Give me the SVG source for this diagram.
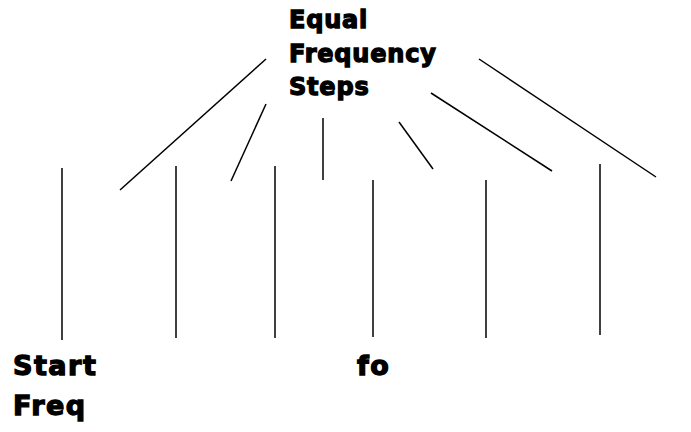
<svg xmlns="http://www.w3.org/2000/svg" width="691" height="432" viewBox="0 0 691 432">
<style>
.t{font-family:"DejaVu Sans",sans-serif;font-weight:bold;fill:#000;stroke:#000;stroke-width:1.3}
.s{font-size:24px;letter-spacing:0.8px}
.b{font-size:27px;letter-spacing:1.5px}
line{stroke:#000;stroke-width:1.5}
</style>
<rect width="691" height="432" fill="#fff"/>
<g id="title"><text class="t s" x="289" y="28">Equal</text><text class="t s" x="289" y="62">Frequency</text><text class="t s" x="289" y="95">Steps</text></g>
<g id="start"><text class="t b" x="13" y="375">Start</text><text class="t b" x="13" y="415">Freq</text></g>
<g id="fo"><text class="t b" x="357" y="375">fo</text></g>
<g id="connectors">
<line x1="266" y1="59" x2="120" y2="190"/>
<line x1="266" y1="104" x2="231" y2="181"/>
<line x1="323" y1="118" x2="323" y2="180"/>
<line x1="399" y1="122" x2="433" y2="169"/>
<line x1="431" y1="93" x2="552" y2="171"/>
<line x1="479" y1="59" x2="656" y2="177"/>
<line x1="62" y1="168" x2="62" y2="340"/>
<line x1="176" y1="166" x2="176" y2="338"/>
<line x1="275" y1="166" x2="275" y2="338"/>
<line x1="373" y1="180" x2="373" y2="337"/>
<line x1="486" y1="180" x2="486" y2="338"/>
<line x1="600" y1="164" x2="600" y2="335"/>
</g>
</svg>
